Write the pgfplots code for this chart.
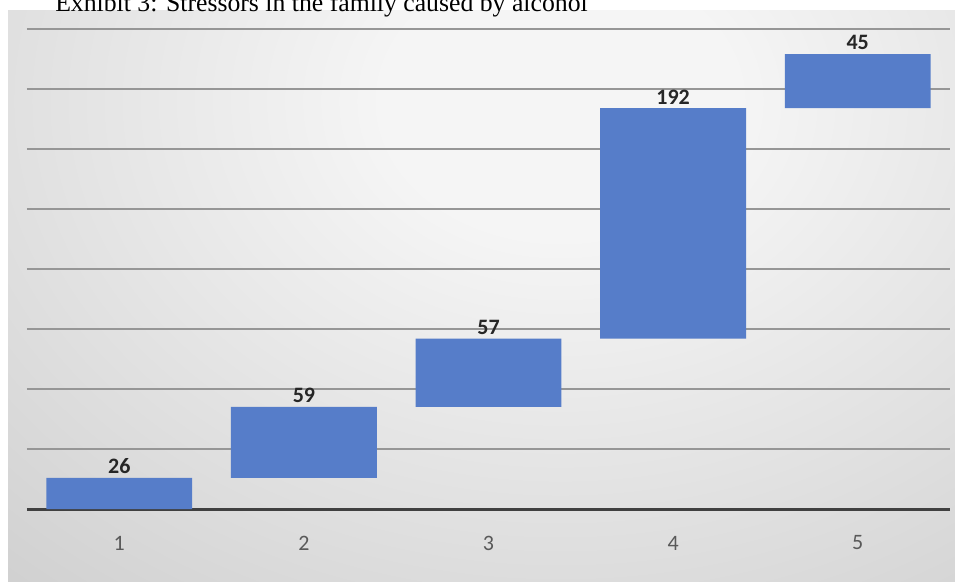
\documentclass[border=0pt]{standalone}
\usepackage{pgfplots}
\pgfplotsset{compat=1.18}
\usepackage{fontspec}
\setmainfont{Carlito}
\newfontfamily\titlefont{Liberation Serif}
\definecolor{barblue}{RGB}{86,125,201}
\definecolor{tickgray}{RGB}{89,89,89}
\definecolor{basedark}{RGB}{64,64,64}
\definecolor{gridgray}{RGB}{150,150,150}
\definecolor{bglight}{RGB}{245,245,245}
\definecolor{bgdark}{RGB}{206,206,206}
\pgfdeclareradialshading{bgshade}{\pgfpoint{0bp}{0bp}}{color(0bp)=(bglight); color(5bp)=(bglight); color(25bp)=(bgdark); color(50bp)=(bgdark)}
\begin{document}
\begin{tikzpicture}[x=0.75pt,y=0.75pt]
\useasboundingbox (0,0) rectangle (955,581);
\clip (0,0) rectangle (955,581);
\fill[bgdark] (8,0) rectangle (955,570);
\begin{scope}
\clip (8,0) rectangle (955,570);
\shade[shading=bgshade] (560,480) ellipse (880 and 680);
\end{scope}
\begin{axis}[at={(20.25pt,54pt)}, anchor=south west, scale only axis,
  width=692.25pt, height=360pt,
  xmin=0.5, xmax=5.5, ymin=0, ymax=400,
  ybar stacked, bar width=0.79,
  xtick={1,2,3,4,5},
  ytick={50,100,...,400}, yticklabels={},
  ymajorgrids, grid style={gridgray, line width=0.9pt},
  axis line style={draw=none}, major tick length=0pt, tick style={draw=none},
  clip=false,
  /pgf/number format/assume math mode=true,
  xticklabel style={font=\fontsize{16.5pt}{18pt}\selectfont, text=tickgray, anchor=center, yshift=-25.5pt},
]
\addplot[draw=none, fill=none, forget plot] coordinates {(1,0) (2,26) (3,85) (4,142) (5,334)};
\addplot[fill=barblue, draw=none, point meta=explicit, nodes near coords,
  visualization depends on={rawy \as \rawy},
  nodes near coords style={font=\bfseries\fontsize{16.5pt}{18pt}\selectfont, text=black!85, anchor=center, yshift={\rawy*0.45pt+8.5pt}}]
  coordinates {(1,26) [26] (2,59) [59] (3,57) [57] (4,192) [192] (5,45) [45]};
\draw[basedark, line width=2.25pt] (axis cs:0.5,0) -- (axis cs:5.5,0);
\end{axis}
\node[anchor=base west, inner sep=0, font=\titlefont\fontsize{19.3pt}{22pt}\selectfont] at (55,569.5) {Exhibit 3: Stressors in the family caused by alcohol};
\end{tikzpicture}
\end{document}
